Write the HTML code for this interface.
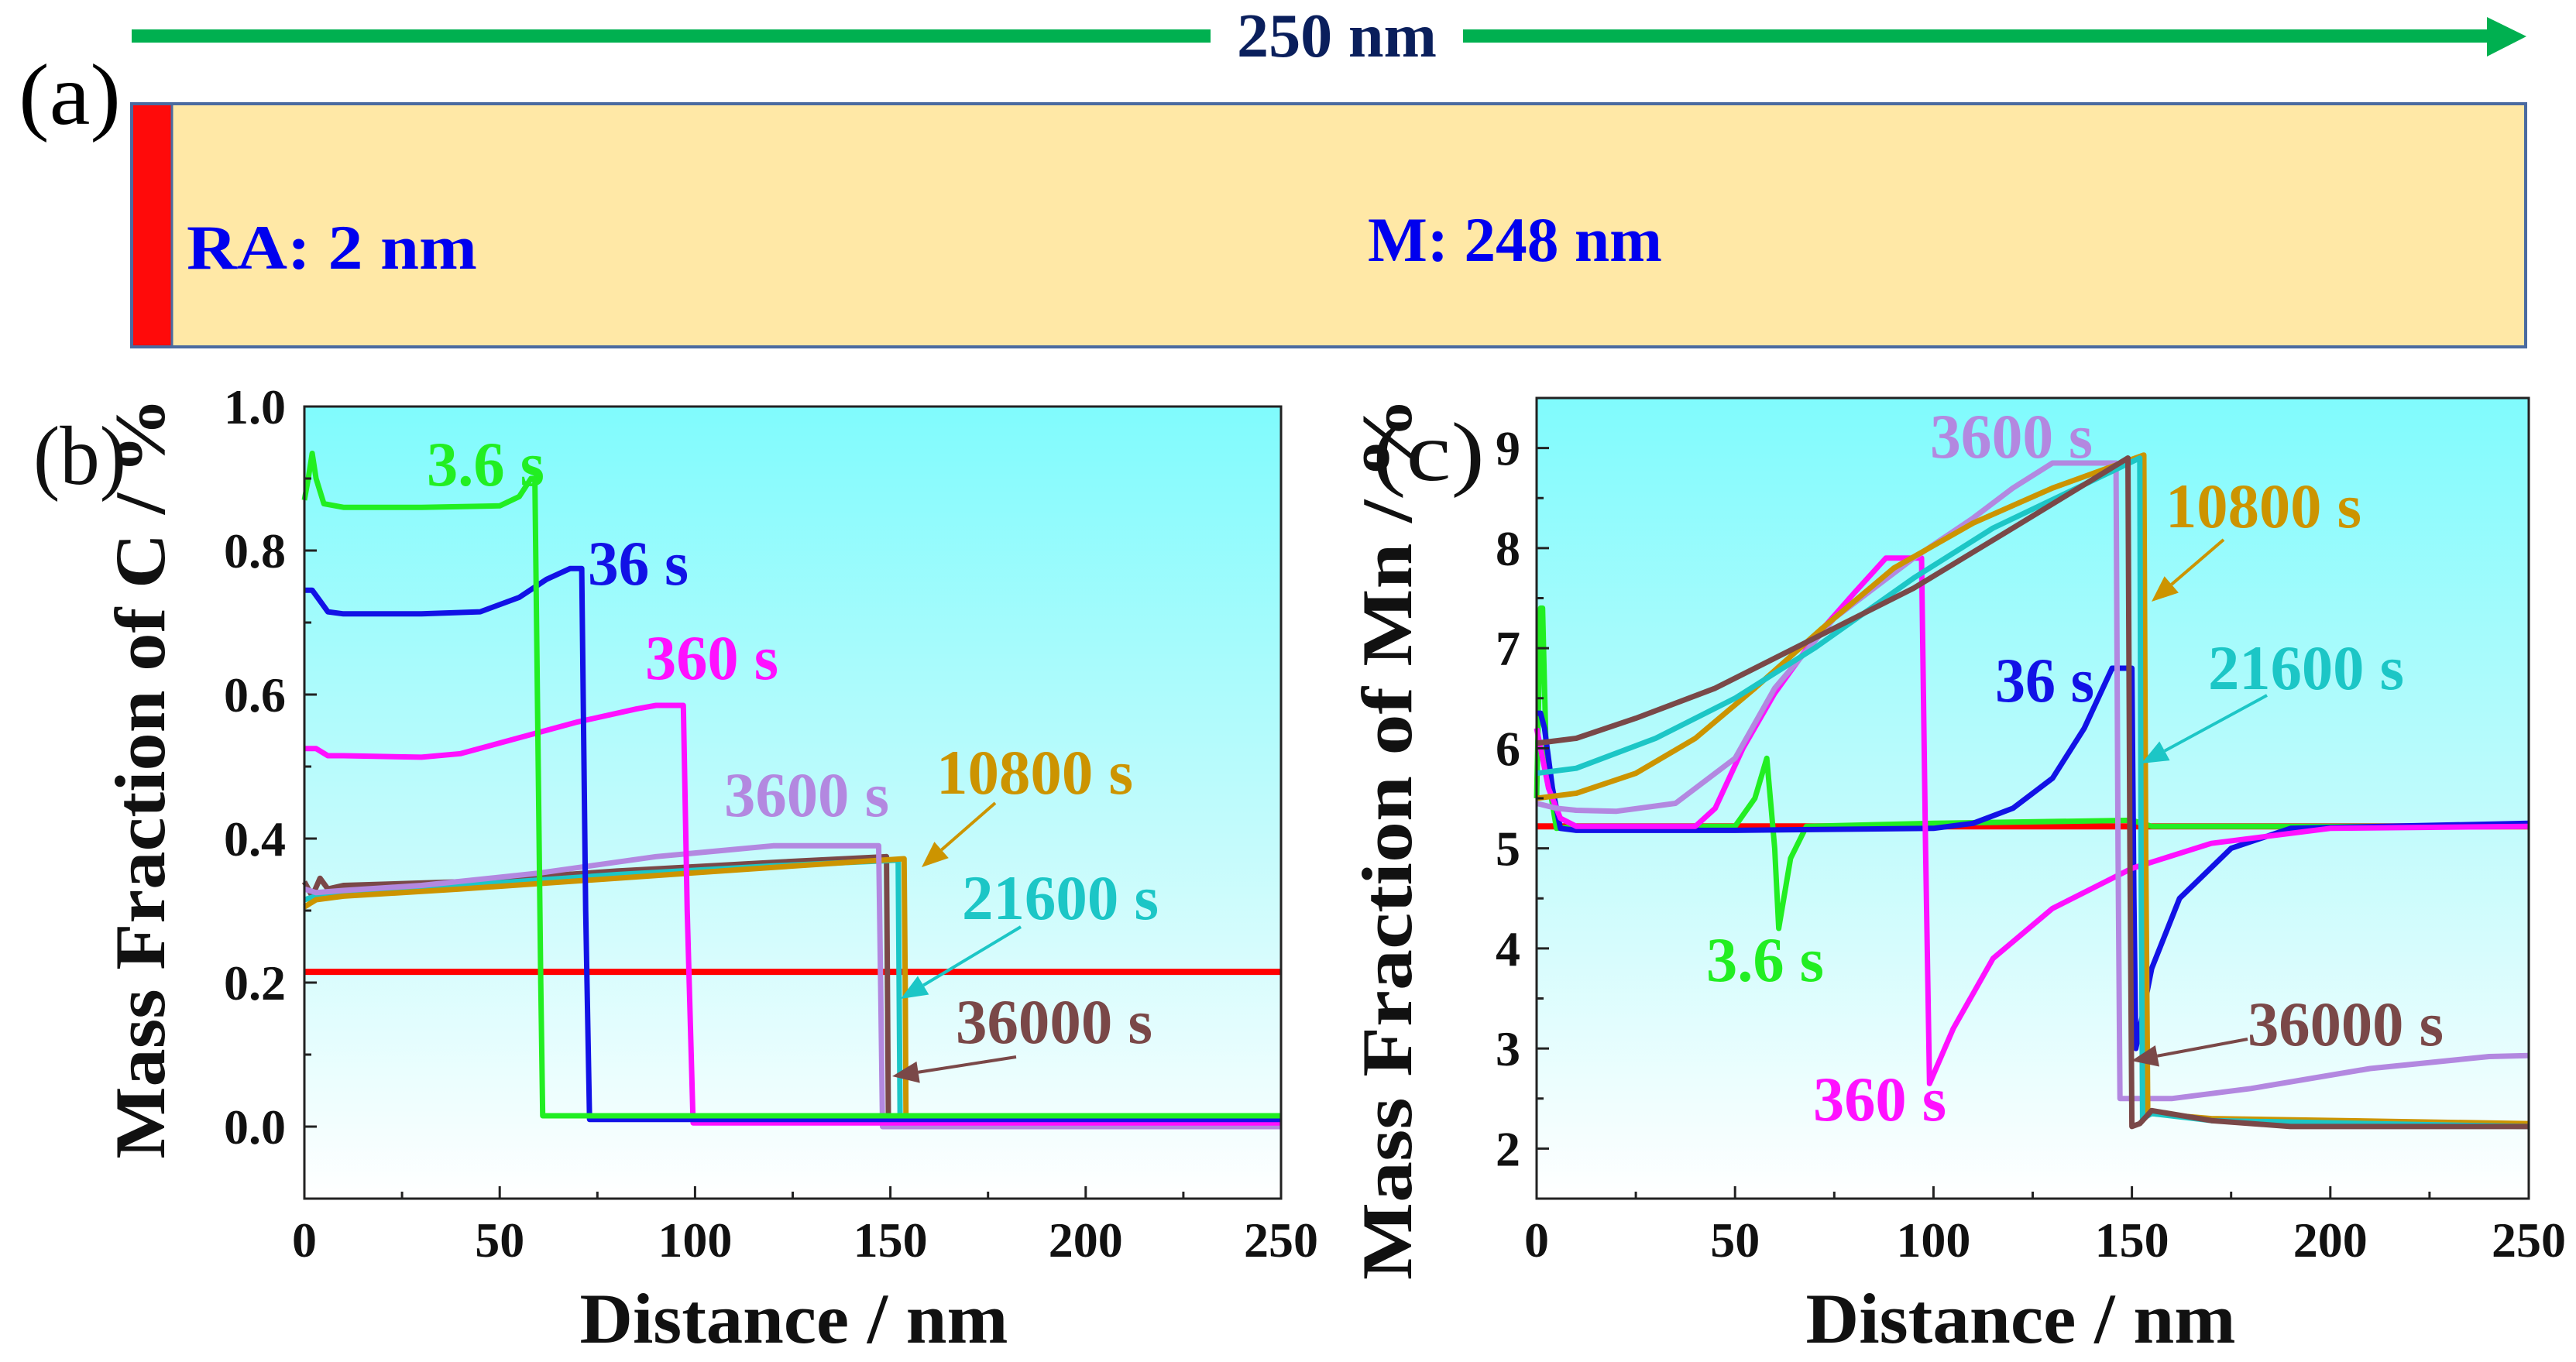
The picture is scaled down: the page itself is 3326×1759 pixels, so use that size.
<!DOCTYPE html>
<html><head><meta charset="utf-8"><style>
html,body{margin:0;padding:0;background:#fff;}
svg{display:block;}
text{font-family:"Liberation Serif",serif;font-weight:bold;}
</style></head><body>
<svg id="fig" width="3326" height="1759" viewBox="0 0 3326 1759" xmlns="http://www.w3.org/2000/svg">
<defs>
<linearGradient id="bg" x1="0" y1="0" x2="0" y2="1">
<stop offset="0" stop-color="#80fbfd"/><stop offset="0.55" stop-color="#c4fbfc"/><stop offset="1" stop-color="#ffffff"/>
</linearGradient>
</defs>
<g>
<text x="24" y="160" font-size="112" style="font-weight:normal" textLength="132" lengthAdjust="spacingAndGlyphs">(a)</text>
<rect x="170" y="38" width="1393" height="17" fill="#00b050"/>
<rect x="1889" y="38" width="1325" height="17" fill="#00b050"/>
<polygon points="3211,22 3262,47 3211,73" fill="#00b050"/>
<text x="1597" y="73" font-size="80" fill="#0a1f5c" textLength="258" lengthAdjust="spacingAndGlyphs">250 nm</text>
<rect x="170" y="134" width="3091" height="314" fill="#ffe8a6" stroke="#4a6aa0" stroke-width="4"/>
<rect x="172" y="136" width="50" height="310" fill="#ff0a0a"/>
<line x1="222" y1="134" x2="222" y2="448" stroke="#4a6aa0" stroke-width="3"/>
<text x="241" y="347" font-size="82" fill="#0000ee" textLength="375" lengthAdjust="spacingAndGlyphs">RA:  2 nm</text>
<text x="1766" y="337" font-size="82" fill="#0000ee" textLength="380" lengthAdjust="spacingAndGlyphs">M: 248 nm</text>
</g>
<g id="pb"></g>
<g id="pc"></g>
</svg>
<script>
// ---------- Panel (b) data: carbon ----------
const bX36 = [0,1,2,3,5,10,30,50,55,58,59,60.5,61,100,250];
const bY36 = [0.87,0.9,0.935,0.9,0.865,0.86,0.86,0.862,0.875,0.9,0.9,0.2,0.015,0.015,0.015];
const bX360s = [0,2,4,6,10,30,45,55,62,68,71,72,73,100,250];
const bY360s = [0.745,0.745,0.73,0.715,0.712,0.712,0.715,0.735,0.76,0.775,0.775,0.3,0.01,0.01,0.01];
const bX3600s = [0,3,6,10,30,40,55,70,85,90,97,98,99.5,150,250];
const bY3600s = [0.525,0.525,0.515,0.515,0.513,0.518,0.54,0.562,0.58,0.585,0.585,0.3,0.005,0.005,0.005];
const bXp = [0,3,10,30,60,90,110,120,147,147.5,148,250];
const bYp = [0.33,0.325,0.328,0.335,0.352,0.375,0.385,0.39,0.39,0.2,0.0,0.0];
const bXo = [0,3,10,40,80,120,153.5,153.8,154,250];
const bYo = [0.305,0.315,0.32,0.33,0.345,0.36,0.372,0.2,0.0,0.0];
const bXc = [0,3,10,40,80,120,152,152.5,250];
const bYc = [0.315,0.32,0.325,0.335,0.35,0.362,0.37,0.005,0.005];
const bXb = [0,2,4,6,10,40,80,120,149,149.5,250];
const bYb = [0.34,0.32,0.345,0.33,0.335,0.34,0.355,0.367,0.375,0.002,0.002];
const bXr = [0,250];
const bYr = [0.215,0.215];
const bYTicks = [0.0,0.2,0.4,0.6,0.8,1.0];
const bYTickLabels = ["0.0","0.2","0.4","0.6","0.8","1.0"];
const xTicks = [0,50,100,150,200,250];
const xTickLabels = ["0","50","100","150","200","250"];

// ---------- Panel (c) data: manganese ----------
const cXg = [0,1,1.5,2.5,5,10,50,55,58,60,61,64,68,100,150,155,250];
const cYg = [5.5,7.4,7.4,5.8,5.2,5.22,5.22,5.5,5.9,5.0,4.2,4.9,5.22,5.25,5.28,5.22,5.22];
const cXbl = [0,1,2,4,6,10,50,100,110,120,130,138,145,150,150.5,151,155,162,175,190,250];
const cYbl = [6.35,6.35,6.2,5.6,5.2,5.18,5.18,5.2,5.25,5.4,5.7,6.2,6.8,6.8,4.5,3.0,3.8,4.5,5.0,5.2,5.25];
const cXm = [0,3,6,10,40,45,52,60,70,80,88,97,98,99,105,115,130,150,170,200,250];
const cYm = [6.2,5.6,5.3,5.22,5.22,5.4,6.0,6.55,7.1,7.55,7.9,7.9,5.0,2.65,3.2,3.9,4.4,4.8,5.05,5.2,5.22];
const cXp = [0,5,10,20,35,50,60,75,95,110,120,130,146,146.5,147,160,180,210,240,250];
const cYp = [5.45,5.4,5.38,5.37,5.45,5.9,6.6,7.3,7.9,8.3,8.6,8.85,8.85,5.0,2.5,2.5,2.6,2.8,2.92,2.93];
const cXo = [0,10,25,40,55,72,90,110,130,153,153.5,154,155,170,250];
const cYo = [5.5,5.55,5.75,6.1,6.6,7.2,7.8,8.25,8.6,8.93,5.0,2.35,2.35,2.3,2.25];
const cXc = [0,10,30,50,70,95,115,152,152.3,152.7,155,170,250];
const cYc = [5.75,5.8,6.1,6.5,7.0,7.7,8.2,8.9,5.0,2.3,2.35,2.28,2.22];
const cXb = [0,10,25,45,65,95,120,149,149.5,150,152,155,170,190,250];
const cYb = [6.05,6.1,6.3,6.6,7.0,7.6,8.2,8.9,5.0,2.22,2.25,2.38,2.28,2.22,2.22];
const cXr = [0,250];
const cYr = [5.22,5.22];
const cYTicks = [2,3,4,5,6,7,8,9];
const cYTickLabels = ["2","3","4","5","6","7","8","9"];

const NS = "http://www.w3.org/2000/svg";
function mk(tag, attrs, parent){
  const e = document.createElementNS(NS, tag);
  for (const k in attrs) e.setAttribute(k, attrs[k]);
  parent.appendChild(e);
  return e;
}

function drawPanel(g, P){
  const sx = v => P.left + (v - P.xmin) / (P.xmax - P.xmin) * (P.right - P.left);
  const sy = v => P.bottom - (v - P.ymin) / (P.ymax - P.ymin) * (P.bottom - P.top);
  const bg = mk('rect', {x:P.left, y:P.top, width:P.right-P.left, height:P.bottom-P.top, fill:'url(#bg)'}, g);
  
  
  P.series.forEach(s => {
    let d = '';
    s.x.forEach((xv, i) => { d += (i ? 'L' : 'M') + sx(xv).toFixed(1) + ',' + sy(s.y[i]).toFixed(1); });
    const p = mk('path', {d:d, fill:'none', stroke:s.color, 'stroke-width':s.w || 7, 'stroke-linejoin':'round'}, g);
    
    
  });
  const fr = mk('rect', {x:P.left, y:P.top, width:P.right-P.left, height:P.bottom-P.top, fill:'none', stroke:'#222', 'stroke-width':3}, g);
  
  
  P.xTicks.forEach((t, i) => {
    const x = sx(t);
    mk('line', {x1:x, y1:P.bottom, x2:x, y2:P.bottom-16, stroke:'#222', 'stroke-width':3}, g);
    if (i < P.xTicks.length - 1) {
      const xm = sx(t + 25);
      mk('line', {x1:xm, y1:P.bottom, x2:xm, y2:P.bottom-9, stroke:'#222', 'stroke-width':3}, g);
    }
    const tx = mk('text', {x:x, y:P.xLabelY, 'font-size':64, 'text-anchor':'middle', fill:'#111'}, g);
    tx.textContent = P.xTickLabels[i];
    
    
  });
  P.yTicks.forEach((t, i) => {
    const y = sy(t);
    mk('line', {x1:P.left, y1:y, x2:P.left+16, y2:y, stroke:'#222', 'stroke-width':3}, g);
    const ym = sy(t + P.yMinor);
    if (ym > P.top) mk('line', {x1:P.left, y1:ym, x2:P.left+9, y2:ym, stroke:'#222', 'stroke-width':3}, g);
    const ty = mk('text', {x:P.yLabelX, y:y+22, 'font-size':64, 'text-anchor':'end', fill:'#111'}, g);
    ty.textContent = P.yTickLabels[i];
    
    
  });
  const ym0 = sy(P.yTicks[0] - P.yMinor);
  if (ym0 < P.bottom) mk('line', {x1:P.left, y1:ym0, x2:P.left+9, y2:ym0, stroke:'#222', 'stroke-width':3}, g);
  const xt = mk('text', {x:P.xTitleX, y:1734, 'font-size':92, 'text-anchor':'middle', fill:'#111', textLength:P.xTitleLen, lengthAdjust:'spacingAndGlyphs'}, g);
  xt.textContent = 'Distance / nm';
  
  
  const yt = mk('text', {x:0, y:0, 'font-size':92, 'text-anchor':'middle', fill:'#111', textLength:P.yTitleLen, lengthAdjust:'spacingAndGlyphs', transform:'translate(' + P.yTitleX + ',' + P.yTitleY + ') rotate(-90)'}, g);
  yt.textContent = P.yTitle;
  
  
  const pl = mk('text', {x:P.panelX, y:P.panelY, 'font-size':108, style:'font-weight:normal', fill:'#111', textLength:P.panelLen, lengthAdjust:'spacingAndGlyphs'}, g);
  pl.textContent = P.panelLabel;
  
  
  P.labels.forEach(L => {
    const t = mk('text', {x:L.x, y:L.y, 'font-size':82, fill:L.color, textLength:L.len, lengthAdjust:'spacingAndGlyphs'}, g);
    t.textContent = L.text;
    
    
  });
  P.arrows.forEach(A => {
    const ang = Math.atan2(A.y2 - A.y1, A.x2 - A.x1), h = 34, w = 14;
    const bx = A.x2 - h*Math.cos(ang), by = A.y2 - h*Math.sin(ang);
    const ln = mk('line', {x1:A.x1, y1:A.y1, x2:bx, y2:by, stroke:A.color, 'stroke-width':4}, g);
    
    
    const pts = [A.x2 + ',' + A.y2,
      (bx + w*Math.sin(ang)) + ',' + (by - w*Math.cos(ang)),
      (bx - w*Math.sin(ang)) + ',' + (by + w*Math.cos(ang))].join(' ');
    const hd = mk('polygon', {points:pts, fill:A.color}, g);
    
    
  });
}

const GREEN = '#22ee22', BLUE = '#1212e6', MAG = '#ff10ff', PUR = '#b388e0', ORA = '#cc9400', CYA = '#1cc6c6', BRO = '#7a4848', RED = '#ff0000';

drawPanel(document.getElementById('pb'), {
  left:393, right:1654, top:525, bottom:1548, xmin:0, xmax:250, ymin:-0.1, ymax:1.0, yMinor:0.1,
  xTicks:xTicks, xTickLabels:xTickLabels, yTicks:bYTicks, yTickLabels:bYTickLabels,
  xLabelY:1623, yLabelX:369, xTitleX:1025, xTitleLen:553, yTitleX:212, yTitleY:1005, yTitleLen:983,
  yTitle:'Mass Fraction of C / %', panelLabel:'(b)', panelX:43, panelY:625, panelLen:120,
  series:[
    {name:'series-red-initial', x:bXr, y:bYr, color:RED, w:8},
    {name:'series-36000s', x:bXb, y:bYb, color:BRO},
    {name:'series-21600s', x:bXc, y:bYc, color:CYA},
    {name:'series-10800s', x:bXo, y:bYo, color:ORA},
    {name:'series-3600s', x:bXp, y:bYp, color:PUR},
    {name:'series-360s', x:bX3600s, y:bY3600s, color:MAG},
    {name:'series-36s', x:bX360s, y:bY360s, color:BLUE},
    {name:'series-3.6s', x:bX36, y:bY36, color:GREEN}
  ],
  labels:[
    {text:'3.6 s', x:551, y:627, color:GREEN, len:152},
    {text:'36 s', x:759, y:755, color:BLUE, len:130},
    {text:'360 s', x:833, y:877, color:MAG, len:172},
    {text:'3600 s', x:935, y:1054, color:PUR, len:213},
    {text:'10800 s', x:1209, y:1025, color:ORA, len:254},
    {text:'21600 s', x:1242, y:1187, color:CYA, len:254},
    {text:'36000 s', x:1234, y:1347, color:BRO, len:254}
  ],
  arrows:[
    {x1:1285, y1:1037, x2:1190, y2:1120, color:ORA},
    {x1:1318, y1:1197, x2:1163, y2:1290, color:CYA},
    {x1:1312, y1:1365, x2:1152, y2:1390, color:BRO}
  ]
});

drawPanel(document.getElementById('pc'), {
  left:1984, right:3265, top:514, bottom:1548, xmin:0, xmax:250, ymin:1.5, ymax:9.5, yMinor:0.5,
  xTicks:xTicks, xTickLabels:xTickLabels, yTicks:cYTicks, yTickLabels:cYTickLabels,
  xLabelY:1623, yLabelX:1963, xTitleX:2609, xTitleLen:555, yTitleX:1822, yTitleY:1083, yTitleLen:1140,
  yTitle:'Mass Fraction of Mn / %', panelLabel:'(c)', panelX:1772, panelY:620, panelLen:145,
  series:[
    {name:'series-red-initial', x:cXr, y:cYr, color:RED, w:8},
    {name:'series-3.6s', x:cXg, y:cYg, color:GREEN},
    {name:'series-36s', x:cXbl, y:cYbl, color:BLUE},
    {name:'series-360s', x:cXm, y:cYm, color:MAG},
    {name:'series-3600s', x:cXp, y:cYp, color:PUR},
    {name:'series-10800s', x:cXo, y:cYo, color:ORA},
    {name:'series-21600s', x:cXc, y:cYc, color:CYA},
    {name:'series-36000s', x:cXb, y:cYb, color:BRO}
  ],
  labels:[
    {text:'3600 s', x:2492, y:591, color:PUR, len:210},
    {text:'10800 s', x:2796, y:681, color:ORA, len:253},
    {text:'21600 s', x:2851, y:890, color:CYA, len:253},
    {text:'36 s', x:2576, y:906, color:BLUE, len:128},
    {text:'3.6 s', x:2203, y:1267, color:GREEN, len:152},
    {text:'36000 s', x:2902, y:1350, color:BRO, len:253},
    {text:'360 s', x:2341, y:1447, color:MAG, len:172}
  ],
  arrows:[
    {x1:2871, y1:697, x2:2778, y2:777, color:ORA},
    {x1:2927, y1:898, x2:2765, y2:986, color:CYA},
    {x1:2902, y1:1342, x2:2752, y2:1370, color:BRO}
  ]
});
</script>
</body></html>
